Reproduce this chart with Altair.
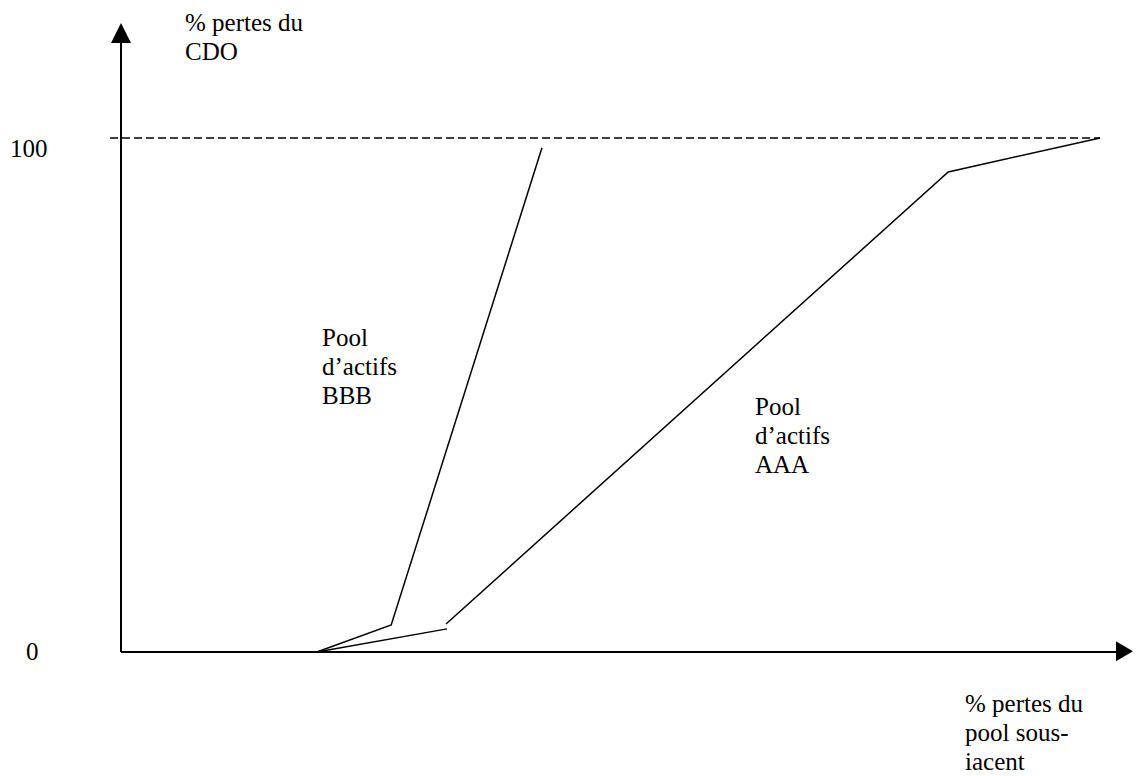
import altair as alt
import pandas as pd

# ---- data (x: % losses of underlying pool, y: % losses of CDO) ----
bbb_x = [20.0, 27.6, 43.0]
bbb_y = [0.0, 5.25, 98.1]
aaa1_x = [20.0, 33.3]
aaa1_y = [0.0, 4.5]
aaa2_x = [33.2, 84.5, 100.0]
aaa2_y = [5.45, 93.4, 100.0]

label_text = ["% pertes du\nCDO", "100", "0", "Pool\nd’actifs\nBBB",
              "Pool\nd’actifs\nAAA", "% pertes du\npool sous-\niacent"]
label_x = [6.54, -11.34, -9.7, 20.53, 64.76, 86.21]
label_y = [120.8, 96.3, -1.56, 59.5, 46.11, -11.67]

# ---- scales ----
W, H = 1125, 768
KX, KY = 9.79, 5.14          # pixels per unit
X0PX, Y0PX = 113, 644         # plot-pixel position of origin
xs = alt.Scale(domain=[-X0PX / KX, (W - X0PX) / KX], nice=False, zero=False)
ys = alt.Scale(domain=[(Y0PX - H) / KY, Y0PX / KY], nice=False, zero=False)


def X(f):
    return alt.X(f, type="quantitative", scale=xs, axis=None)


def Y(f):
    return alt.Y(f, type="quantitative", scale=ys, axis=None)


rows = []
for seg, xx, yy in [("BBB", bbb_x, bbb_y), ("AAA1", aaa1_x, aaa1_y), ("AAA2", aaa2_x, aaa2_y)]:
    for i, (a, b) in enumerate(zip(xx, yy)):
        rows.append({"seg": seg, "ord": i, "x": a, "y": b})
lines_df = pd.DataFrame(rows)

lines = alt.Chart(lines_df).mark_line(color="black", strokeWidth=1.5).encode(
    x=X("x"), y=Y("y"), detail="seg:N", order="ord:Q")

axes_df = pd.DataFrame({"x": [0, 0], "x2": [101.84, 0], "y": [0, 0], "y2": [0, 119.07]})
axes = alt.Chart(axes_df).mark_rule(color="black", strokeWidth=2).encode(
    x=X("x"), x2="x2", y=Y("y"), y2="y2")

dash_df = pd.DataFrame({"x": [-1.12], "x2": [100.0], "y": [100.0]})
dashed = alt.Chart(dash_df).mark_rule(color="black", strokeWidth=1.3, strokeDash=[8, 4]).encode(
    x=X("x"), x2="x2", y=Y("y"))

up_df = pd.DataFrame({"x": [0.0], "y": [120.43]})
arrow_up = alt.Chart(up_df).mark_point(
    shape="M0,-1L1,1L-1,1Z", filled=True, size=400, color="black", opacity=1, strokeWidth=0
).encode(x=X("x"), y=Y("y"))

right_df = pd.DataFrame({"x": [102.5], "y": [0.15]})
arrow_right = alt.Chart(right_df).mark_point(
    shape="M0.85,0L-0.85,1L-0.85,-1Z", filled=True, size=400, color="black", opacity=1,
    strokeWidth=0
).encode(x=X("x"), y=Y("y"))

lab_df = pd.DataFrame({"x": label_x, "y": label_y, "t": label_text})
labels = alt.Chart(lab_df).mark_text(
    align="left", baseline="alphabetic", font="Liberation Serif", fontSize=25,
    lineHeight=29, lineBreak="\n", color="black"
).encode(x=X("x"), y=Y("y"), text="t:N")

chart = alt.layer(dashed, axes, lines, arrow_up, arrow_right, labels).properties(
    width=W, height=H, padding=0, autosize=alt.AutoSizeParams(type="none"),
    background="white"
).configure_view(stroke=None)

chart.save("out.html", embed_options={"renderer": "svg", "actions": False})
